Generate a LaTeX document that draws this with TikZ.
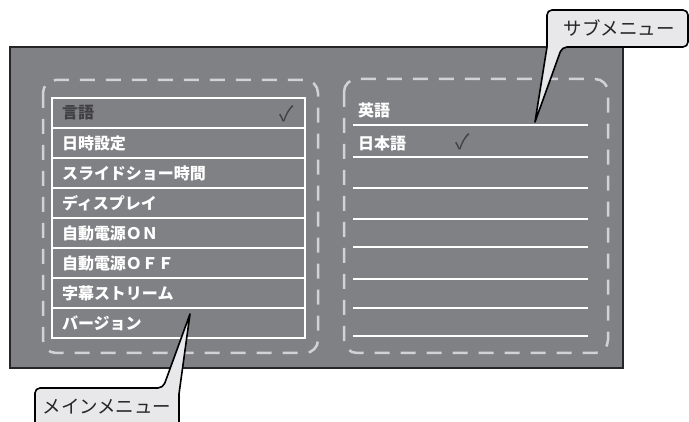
\documentclass[tikz,border=0pt]{standalone}
\usepackage{fontspec}
\usepackage{tikz}
\newfontfamily\jp{Noto Sans CJK JP}
\definecolor{screengray}{RGB}{128,129,133}
\definecolor{dashgray}{RGB}{210,210,212}
\definecolor{bubblegray}{RGB}{232,232,234}
\definecolor{darktext}{RGB}{64,64,66}
\tikzstyle{screen} = [fill=screengray, draw=black!85, line width=2pt]
\tikzstyle{dashbox} = [draw=dashgray, line width=2.5pt, rounded corners=13pt,
dash pattern=on 15pt off 11pt]
\tikzstyle{mainrow} = [draw=white, line width=1.6pt, minimum width=253pt,
minimum height=30pt, text width=233pt, inner xsep=10pt, inner ysep=0pt,
align=left, text=white, font=\jp\bfseries\fontsize{16}{16}\selectfont]
\tikzstyle{subtext} = [anchor=west, inner sep=0pt, text=white,
font=\jp\bfseries\fontsize{16}{16}\selectfont]
\tikzstyle{subline} = [draw=white, line width=2pt]
\tikzstyle{tick} = [inner sep=0pt, text=darktext, font=\jp\fontsize{21}{21}\selectfont]
\tikzstyle{bubble} = [fill=bubblegray, draw=black, line width=1.6pt, line join=round]
\tikzstyle{bubble text} = [inner sep=0pt, text=black!85, font=\jp\fontsize{18.5}{18.5}\selectfont]

\begin{document}
\begin{tikzpicture}[x=1pt, y=-1pt]
  \useasboundingbox (0,0) rectangle (689,422);
  \draw[screen] (10,47) rectangle (623,368);
  \draw[dashbox] (43,80) rectangle (318,353);
  \draw[dashbox] (344,79) rectangle (608,353);
  % main menu
  \node[mainrow, text=darktext] (main-1) at (178.5,113) {言語};
  \node[mainrow] (main-2) at (178.5,143) {日時設定};
  \node[mainrow] (main-3) at (178.5,173) {スライドショー時間};
  \node[mainrow] (main-4) at (178.5,203) {ディスプレイ};
  \node[mainrow] (main-5) at (178.5,233) {自動電源ＯＮ};
  \node[mainrow] (main-6) at (178.5,263) {自動電源ＯＦＦ};
  \node[mainrow] (main-7) at (178.5,293) {字幕ストリーム};
  \node[mainrow] (main-8) at (178.5,323) {バージョン};
  \node[tick] (tick-main) at (287,114) {✓};
  % sub menu
  \node[subtext] (sub-1) at (358,110) {英語};
  \node[subtext] (sub-2) at (358,143) {日本語};
  \node[tick] (tick-sub) at (463,142) {✓};
  \foreach \y in {125,157,188,219,247,279,308,336}
    \draw[subline] (353,\y) -- (588,\y);
  % callouts
  \coordinate (sub-tip) at (535,122);
  \draw[bubble] (sub-tip) -- (547,47) [rounded corners=5pt] -- (547,10)
    -- (688,10) -- (688,47) -- (562,47) [sharp corners] -- cycle;
  \node[bubble text] (sub-label) at (619,28) {サブメニュー};
  \coordinate (main-tip) at (190,314);
  \draw[bubble] (35,430) [rounded corners=5pt] -- (35,388) -- (163,388)
    [sharp corners] -- (main-tip) -- (179,394) -- (179,430);
  \node[bubble text] (main-label) at (107,407) {メインメニュー};
\end{tikzpicture}
\end{document}
